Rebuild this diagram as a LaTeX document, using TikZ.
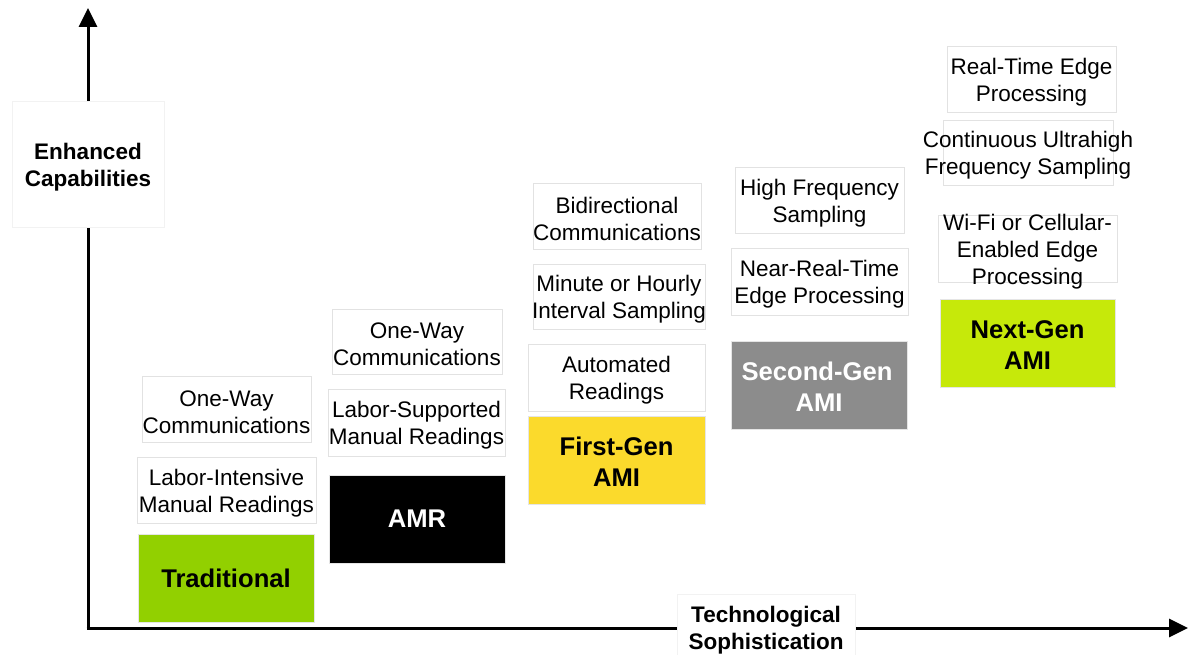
\documentclass[tikz,border=0pt]{standalone}
\usepackage{fontspec}
\setmainfont{Liberation Sans}
\usetikzlibrary{arrows.meta}
% each line is set at zero width so the frame keeps its own size,
% and drawn slightly lower than its box for optical centring
\newcommand\zw[1]{\makebox[0pt]{\raisebox{-3pt}[\height][\depth]{#1}}}
\newcommand\zg[1]{\makebox[0pt]{\raisebox{-2pt}[\height][\depth]{#1}}}
\definecolor{tradgreen}{RGB}{146,208,0}
\definecolor{firstgold}{RGB}{251,218,44}
\definecolor{secondgrey}{RGB}{140,140,140}
\definecolor{nextlime}{RGB}{198,233,10}
\definecolor{framegrey}{RGB}{226,226,226}
\tikzset{
  axis/.style={line width=3pt, -{Triangle[length=19pt,width=18pt]}},
  axislabel/.style={fill=white, draw=black!5, line width=0.6pt, align=center, inner sep=0pt,
    font=\fontsize{22.5}{27}\selectfont\bfseries},
  feature/.style={fill=white, draw=framegrey, line width=0.9pt, align=center, inner sep=0pt,
    font=\fontsize{22.5}{27}\selectfont},
  generation/.style={draw=black!10, line width=0.6pt, align=center, inner sep=0pt,
    minimum width=176pt, minimum height=88pt,
    font=\fontsize{25.6}{31}\selectfont\bfseries},
}
\begin{document}
\begin{tikzpicture}[x=1pt,y=-1pt]
\useasboundingbox (0,0) rectangle (1188,655);

% axes
\coordinate (origin) at (88,628);
\coordinate (ytip) at (88,8);
\coordinate (xtip) at (1188,628);
\draw[axis] (origin) -- (ytip);
\draw[axis] ([xshift=-1.5pt]origin) -- (xtip);

\node[axislabel, minimum width=152pt, minimum height=126pt] (ylab) at (88,164)
  {\zw{Enhanced}\\\zw{Capabilities}};
\node[axislabel, minimum width=178pt, minimum height=66pt] (xlab) at (766,627)
  {\zw{Technological}\\\zw{Sophistication}};

% Traditional
\node[generation, fill=tradgreen] (trad) at (226,578) {Traditional};
\node[feature, minimum width=179pt, minimum height=66pt] (labint) at (226.5,490)
  {\zw{Labor-Intensive}\\\zw{Manual Readings}};
\node[feature, minimum width=169pt, minimum height=66pt] (oneway1) at (226.5,409)
  {\zw{One-Way}\\\zw{Communications}};

% AMR
\node[generation, fill=black, text=white] (amr) at (417,519) {AMR};
\node[feature, minimum width=177pt, minimum height=67pt] (labsup) at (416.5,422.5)
  {\zw{Labor-Supported}\\\zw{Manual Readings}};
\node[feature, minimum width=170pt, minimum height=65pt] (oneway2) at (417,341.5)
  {\zw{One-Way}\\\zw{Communications}};

% First-Gen AMI
\node[generation, fill=firstgold, minimum width=177pt] (first) at (616.5,460)
  {\zg{First-Gen}\\\zg{AMI}};
\node[feature, minimum width=177pt, minimum height=67pt] (auto) at (616.5,377.5)
  {\zw{Automated}\\\zw{Readings}};
\node[feature, minimum width=172pt, minimum height=65pt] (interval) at (619,296.5)
  {\zw{Minute or Hourly}\\\zw{Interval Sampling}};
\node[feature, minimum width=168pt, minimum height=66pt] (bidir) at (617,216)
  {\zw{Bidirectional}\\\zw{Communications}};

% Second-Gen AMI
\node[generation, fill=secondgrey, text=white] (second) at (819,385)
  {\zg{\hspace*{-4pt}Second-Gen}\\\zg{AMI}};
\node[feature, minimum width=177pt, minimum height=67pt] (nearrt) at (819.5,281.5)
  {\zw{Near-Real-Time}\\\zw{Edge Processing}};
\node[feature, minimum width=169pt, minimum height=66pt] (highfreq) at (819.5,200)
  {\zw{High Frequency}\\\zw{Sampling}};

% Next-Gen AMI
\node[generation, fill=nextlime, minimum width=175pt] (next) at (1027.5,343)
  {\zg{Next-Gen}\\\zg{AMI}};
\node[feature, minimum width=179pt] (wifi) at (1027.5,248.5)
  {\zw{\raisebox{0pt}[12.4pt][0pt]{Wi-Fi or Cellular-}}\\\zw{Enabled Edge}\\\zw{\raisebox{0pt}[\height][0.6pt]{Processing}}};
\node[feature, minimum width=170pt, minimum height=65pt] (ultra) at (1028,152.5)
  {\zw{Continuous Ultrahigh}\\\zw{Frequency Sampling}};
\node[feature, minimum width=169pt, minimum height=66pt] (realtime) at (1031.5,79)
  {\zw{Real-Time Edge}\\\zw{Processing}};
\end{tikzpicture}
\end{document}
